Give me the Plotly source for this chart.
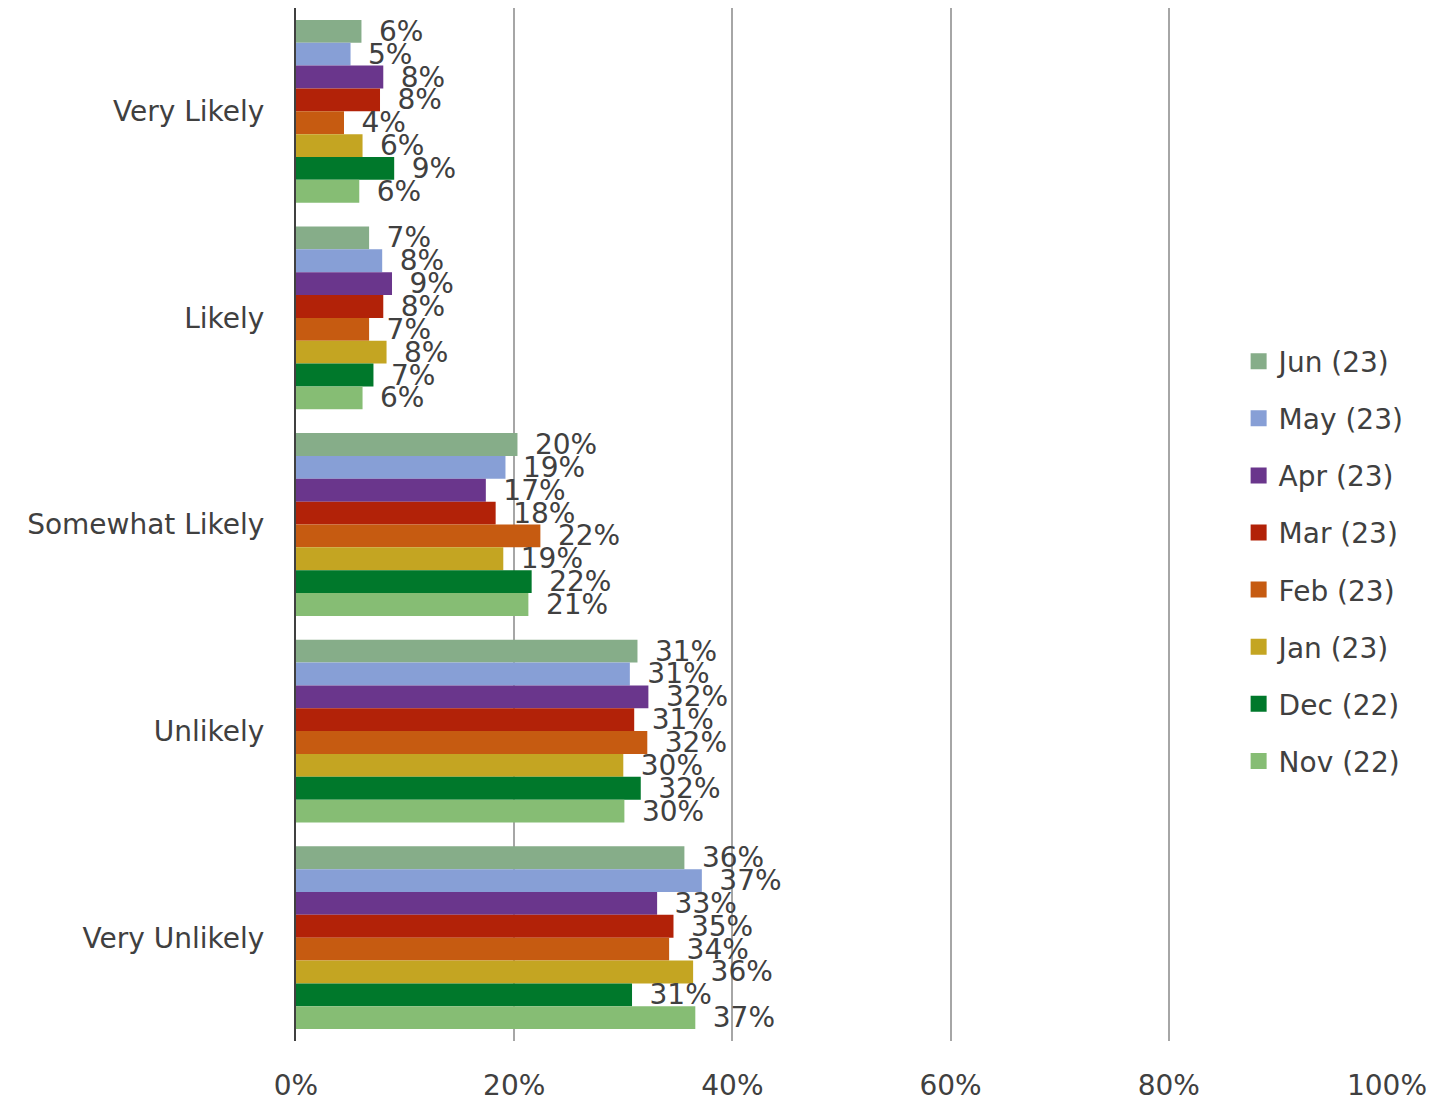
import plotly.graph_objects as go

categories = ["Very Likely", "Likely", "Somewhat Likely", "Unlikely", "Very Unlikely"]

series_names = ["Jun (23)", "May (23)", "Apr (23)", "Mar (23)", "Feb (23)", "Jan (23)", "Dec (22)", "Nov (22)"]

jun = [6.0, 6.7, 20.3, 31.3, 35.6]
may = [5.0, 7.9, 19.2, 30.6, 37.2]
apr = [8.0, 8.8, 17.4, 32.3, 33.1]
mar = [7.7, 8.0, 18.3, 31.0, 34.6]
feb = [4.4, 6.7, 22.4, 32.2, 34.2]
jan = [6.1, 8.3, 19.0, 30.0, 36.4]
dec = [9.0, 7.1, 21.6, 31.6, 30.8]
nov = [5.8, 6.1, 21.3, 30.1, 36.6]

series_values = [jun, may, apr, mar, feb, jan, dec, nov]
colors = ["#86ad89", "#879fd6", "#6a368c", "#b22208", "#c65b11", "#c4a522", "#00782b", "#86bd74"]

x_ticks = [0, 20, 40, 60, 80, 100]

FONT = "DejaVu Sans"
TXT = "#404040"

fig = go.Figure()
for i, (name, vals, col) in enumerate(zip(series_names, series_values, colors)):
    fig.add_trace(go.Bar(
        name=name,
        y=categories,
        x=vals,
        orientation="h",
        marker=dict(color=col, line=dict(width=0)),
        texttemplate="\u00a0\u2009%{x:.0f}%",
        textposition="outside",
        constraintext="none",
        cliponaxis=False,
        textfont=dict(family=FONT, size=28, color=TXT),
        legendgroup=f"g{i}",
        showlegend=False,
        hoverinfo="skip",
    ))
    # legend entry with a larger square swatch
    fig.add_trace(go.Scatter(
        name=name,
        x=[None],
        y=[None],
        mode="markers",
        marker=dict(symbol="square", size=16, color=col, line=dict(width=0)),
        legendgroup=f"g{i}",
        showlegend=True,
        hoverinfo="skip",
    ))

fig.update_layout(
    width=1445,
    height=1104,
    margin=dict(l=296, r=58, t=8, b=63),
    paper_bgcolor="white",
    plot_bgcolor="white",
    barmode="group",
    bargap=0.115,
    bargroupgap=0,
    font=dict(family=FONT, size=28, color=TXT),
    legend=dict(
        x=0.864, y=0.682, xanchor="left", yanchor="top",
        bgcolor="rgba(0,0,0,0)",
        font=dict(family=FONT, size=28, color=TXT),
        tracegroupgap=17.7,
        traceorder="grouped",
        itemsizing="trace",
    ),
    xaxis=dict(
        range=[0, 100],
        tickvals=x_ticks,
        ticktext=[f"{v}%" for v in x_ticks],
        showgrid=True,
        gridcolor="#a6a6a6",
        gridwidth=2,
        zeroline=False,
        showline=False,
        ticks="outside",
        ticklen=19,
        tickcolor="rgba(0,0,0,0)",
        tickfont=dict(family=FONT, size=28, color=TXT),
        automargin=False,
    ),
    yaxis=dict(
        type="category",
        categoryorder="array",
        categoryarray=categories,
        range=[4.5, -0.5],
        showline=True,
        linecolor="#404040",
        linewidth=2,
        showgrid=False,
        ticks="outside",
        ticklen=24,
        tickcolor="rgba(0,0,0,0)",
        tickfont=dict(family=FONT, size=28, color=TXT),
        automargin=False,
    ),
)

fig.write_html("out.html")
